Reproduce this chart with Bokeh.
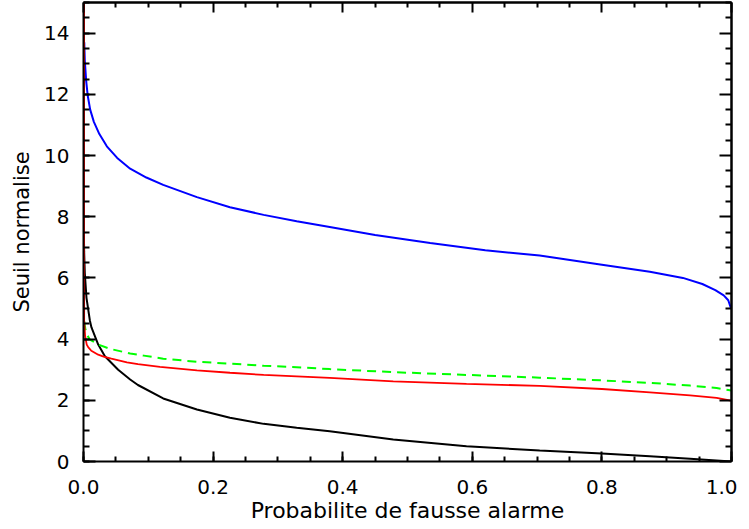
import numpy as np
from bokeh.plotting import figure
from bokeh.models import LinearAxis, SingleIntervalTicker, FixedTicker, PrintfTickFormatter, Range1d
from bokeh.embed import file_html
from bokeh.resources import INLINE

# Data (Pfa vs normalised threshold)
blue_x = [0.0012, 0.002, 0.0042, 0.0065, 0.0103, 0.016, 0.0245, 0.036, 0.052, 0.072, 0.097,
          0.123, 0.175, 0.226, 0.278, 0.329, 0.380, 0.45, 0.535, 0.62, 0.704, 0.80, 0.874,
          0.925, 0.955, 0.975, 0.988, 0.995, 0.999]
blue_y = [13.7, 13.1, 12.42, 11.96, 11.5, 11.1, 10.7, 10.3, 9.92, 9.57, 9.28,
          9.04, 8.64, 8.31, 8.06, 7.85, 7.66, 7.4, 7.14, 6.9, 6.73, 6.43, 6.2,
          6.0, 5.8, 5.6, 5.43, 5.27, 5.02]

red_x = [0.0009, 0.001, 0.0025, 0.005, 0.0072, 0.012, 0.0227, 0.031, 0.043, 0.067, 0.084,
         0.118, 0.175, 0.226, 0.278, 0.329, 0.380, 0.478, 0.591, 0.704, 0.80, 0.874,
         0.936, 0.977, 0.999]
red_y = [15.2, 4.6, 4.1, 3.82, 3.74, 3.62, 3.49, 3.43, 3.36, 3.24, 3.18,
         3.09, 2.98, 2.90, 2.83, 2.78, 2.73, 2.62, 2.54, 2.47, 2.37, 2.26,
         2.16, 2.08, 1.99]

green_x = [0.0005, 0.001, 0.003, 0.006, 0.010, 0.023, 0.041, 0.072, 0.093, 0.123, 0.175,
           0.226, 0.278, 0.329, 0.380, 0.478, 0.591, 0.704, 0.80, 0.874, 0.936, 0.977, 1.0]
green_y = [5.07, 4.6, 4.31, 4.12, 3.98, 3.82, 3.68, 3.53, 3.46, 3.36, 3.26,
           3.20, 3.13, 3.08, 3.02, 2.92, 2.83, 2.74, 2.65, 2.57, 2.48, 2.40, 2.32]

black_x = [0.00005, 0.0003, 0.001, 0.002, 0.0046, 0.0099, 0.0123, 0.0227, 0.033, 0.0535, 0.072,
           0.084, 0.123, 0.175, 0.226, 0.278, 0.329, 0.380, 0.478, 0.591, 0.704, 0.80,
           0.874, 0.936, 1.0]
black_y = [9.8, 8.0, 6.85, 6.16, 5.35, 4.6, 4.38, 3.82, 3.44, 3.0, 2.68,
           2.50, 2.06, 1.70, 1.43, 1.23, 1.10, 0.99, 0.72, 0.50, 0.36, 0.26,
           0.17, 0.09, 0.0]

x_label = "Probabilite de fausse alarme"
y_label = "Seuil normalise"

x_major = list(np.round(np.arange(0, 1.0001, 0.2), 2))
x_minor = [v for v in np.round(np.arange(0, 1.0001, 0.05), 2) if v not in x_major]
y_major = list(np.arange(0, 15, 2.0))
y_minor = [v for v in np.arange(0, 15.0001, 0.5) if v not in y_major]

FONT = "DejaVu Sans"

p = figure(frame_width=648, frame_height=459,
           x_range=Range1d(0, 1), y_range=Range1d(0, 15),
           output_backend="svg", toolbar_location=None,
           min_border_left=83, min_border_right=6, min_border_top=2, min_border_bottom=64,
           x_axis_location=None, y_axis_location=None)
p.grid.visible = False
p.outline_line_color = None
p.background_fill_color = "white"
p.border_fill_color = "white"


def style_lines(ax):
    ax.major_tick_out = 0
    ax.minor_tick_out = 0
    ax.axis_line_width = 2
    ax.major_tick_line_width = 2
    ax.minor_tick_line_width = 2
    ax.axis_line_color = "black"
    ax.major_tick_line_color = "black"
    ax.minor_tick_line_color = "black"


def style_text(ax, title_size):
    ax.major_label_text_font = FONT
    ax.major_label_text_font_size = "20px"
    ax.major_label_text_color = "black"
    ax.axis_label_text_font = FONT
    ax.axis_label_text_font_size = title_size
    ax.axis_label_text_font_style = "normal"
    ax.axis_label_text_color = "black"


# bottom axis with labels
xb = LinearAxis(ticker=SingleIntervalTicker(interval=0.2, num_minor_ticks=4),
                formatter=PrintfTickFormatter(format="%.1f"))
style_lines(xb)
style_text(xb, "22px")
xb.major_tick_in = 10
xb.minor_tick_in = 5
xb.axis_label = x_label
xb.major_label_standoff = 18
xb.axis_label_standoff = 1
p.add_layout(xb, "below")

# left axis with labels
yl = LinearAxis(ticker=SingleIntervalTicker(interval=2, num_minor_ticks=4))
style_lines(yl)
style_text(yl, "21px")
yl.major_tick_in = 12
yl.minor_tick_in = 6
yl.axis_label = y_label
yl.major_label_standoff = 14
yl.axis_label_standoff = 7
p.add_layout(yl, "left")


# mirrored, label-free tick axes (ticks only as "minor" ticks so no labels exist)
def bare_axis(ticks, length):
    ax = LinearAxis(ticker=FixedTicker(ticks=[], minor_ticks=ticks))
    style_lines(ax)
    ax.minor_tick_in = length
    ax.major_label_standoff = 0
    return ax


p.add_layout(bare_axis(x_major, 10), "above")
p.add_layout(bare_axis(x_minor, 5), "above")
p.add_layout(bare_axis(y_major, 12), "right")
p.add_layout(bare_axis(y_minor, 6), "right")

p.line(black_x, black_y, line_color="black", line_width=2)
p.line(blue_x, blue_y, line_color="#0000ff", line_width=2)
p.line(green_x, green_y, line_color="#00ff00", line_width=2, line_dash="9 6")
p.line(red_x, red_y, line_color="#ff0000", line_width=1.8)

open("out.html", "w").write(file_html(p, INLINE))
